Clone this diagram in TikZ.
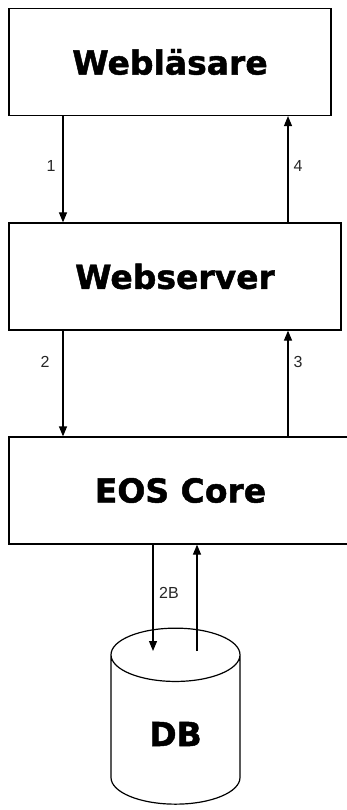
\documentclass[tikz,border=0pt]{standalone}
\usepackage{fontspec}
\setmainfont{Liberation Sans}
\newfontfamily\heavyfont{DejaVu Sans}[BoldFeatures={FakeBold=1.4}]
\usetikzlibrary{arrows.meta,shapes.geometric}

\tikzset{
  block/.style={draw,line width=1.2pt,minimum height=107pt,
    font=\heavyfont\bfseries\fontsize{33}{36}\selectfont},
  store/.style={draw,line width=1.2pt,cylinder,shape border rotate=90,
    aspect=0.9,minimum width=129pt,minimum height=176pt,
    font=\heavyfont\bfseries\fontsize{33}{36}\selectfont},
  flow/.style={line width=1.2pt,-{Triangle[length=10pt,width=8pt]}},
  num/.style={font=\fontsize{16}{18}\selectfont,text=black!85}
}

\begin{document}
\begin{tikzpicture}[x=1pt,y=-1pt]
  \useasboundingbox (0,0) rectangle (346,810);
  % the three tiers
  \node[block,minimum width=322pt] (browser) at (170,62) {Webläsare};
  \node[block,minimum width=332pt] (webserver) at (175,276.5) {Webserver};
  \node[block,minimum width=343pt] (core) at (180.5,490.5) {EOS Core};
  \node[store] (db) at (175.5,734) {DB};

  % columns for the arrows
  \coordinate (down) at (63,0);
  \coordinate (up) at (288,0);
  \coordinate (dbin) at (153,651);
  \coordinate (dbout) at (197,651);

  \draw[flow] (browser.south -| down) -- (webserver.north -| down);
  \draw[flow] (webserver.north -| up) -- (browser.south -| up);
  \draw[flow] (webserver.south -| down) -- (core.north -| down);
  \draw[flow] (core.north -| up) -- (webserver.south -| up);
  \draw[flow] (core.south -| dbin) -- (dbin);
  \draw[flow] (dbout) -- (core.south -| dbout);

  \node[num] (n1) at (51,166) {1};
  \node[num] (n4) at (298,166) {4};
  \node[num] (n2) at (45,362) {2};
  \node[num] (n3) at (298,362) {3};
  \node[num] (n2b) at (169,593) {2B};
\end{tikzpicture}
\end{document}
